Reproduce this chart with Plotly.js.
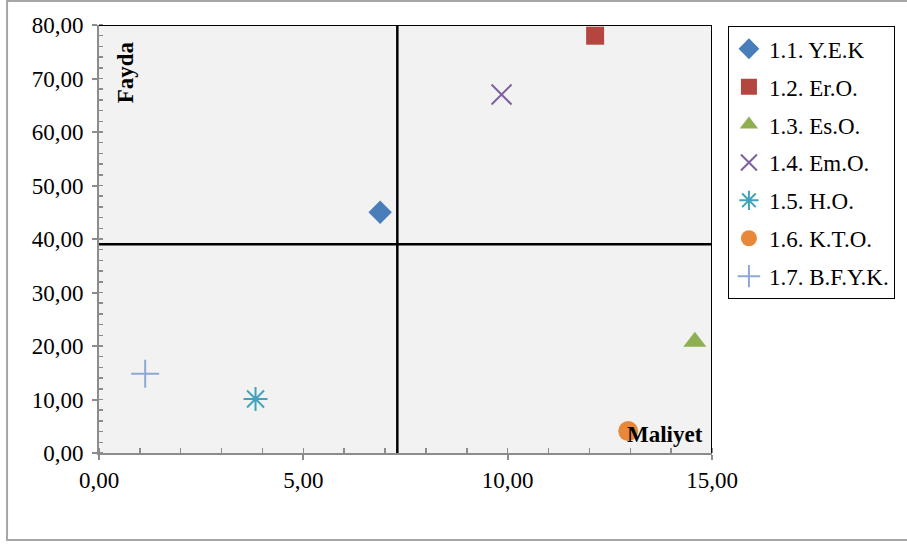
<!DOCTYPE html>
<html>
<head>
<meta charset="utf-8">
<script src="https://cdn.plot.ly/plotly-3.0.1.min.js"></script>
<style>
  html, body { margin: 0; padding: 0; background: #ffffff; }
  #chart { width: 907px; height: 544px; }
</style>
</head>
<body>
<div id="chart"></div>
<script>
// Criteria positioned by cost (Maliyet) and benefit (Fayda)
const names = ["1.1. Y.E.K", "1.2. Er.O.", "1.3. Es.O.", "1.4. Em.O.", "1.5. H.O.", "1.6. K.T.O.", "1.7. B.F.Y.K."];
const maliyet = [6.88, 12.14, 14.58, 9.85, 3.83, 12.95, 1.13];
const fayda = [45.0, 78.0, 20.8, 67.0, 10.1, 4.1, 14.8];
const symbols = ["diamond", "square", "triangle-up", "x-thin-open", "asterisk-open", "circle", "cross-thin-open"];
const colors = ["#4A7EBB", "#B5463F", "#8FB050", "#7D60A0", "#3FA3BE", "#E8883A", "#8EA8D6"];
const sizes = [18, 18, 20, 20, 20, 20, 20];

// Quadrant dividers
const maliyetSplit = 7.3;
const faydaSplit = 39.0;

const xRange = [0, 15];
const yRange = [0, 80];

const traces = names.map((n, i) => ({
  type: "scatter",
  mode: "markers",
  name: n,
  legendgroup: "g" + i,
  x: [maliyet[i]],
  y: [fayda[i]],
  marker: {
    symbol: symbols[i],
    color: colors[i],
    size: sizes[i],
    line: { color: colors[i], width: symbols[i].indexOf("open") >= 0 ? 2 : 0 }
  },
  hoverinfo: "name+x+y"
}));

const serif = "'Liberation Serif', 'Times New Roman', serif";
const axisGray = "#8c8c8c";

const layout = {
  width: 907,
  height: 544,
  margin: { l: 99, r: 195, t: 25, b: 91 },
  paper_bgcolor: "#ffffff",
  plot_bgcolor: "#f2f2f2",
  separators: ",.",
  font: { family: serif, size: 23, color: "#000000" },
  showlegend: true,
  legend: {
    x: 1.026, y: 0.997, xanchor: "left", yanchor: "top",
    bgcolor: "#ffffff", bordercolor: "#000000", borderwidth: 1,
    font: { family: serif, size: 23, color: "#000000" },
    tracegroupgap: 5,
    itemwidth: 30
  },
  xaxis: {
    range: xRange, dtick: 5, tick0: 0, tickformat: ".2f",
    showgrid: false, zeroline: false,
    showline: true, linecolor: axisGray, linewidth: 2,
    ticks: "outside", ticklen: 5, tickwidth: 2, tickcolor: axisGray,
    ticklabelstandoff: 0,
    minor: { dtick: 1, ticks: "inside", ticklen: 5, tickwidth: 1.5, tickcolor: axisGray, showgrid: false },
    tickfont: { family: serif, size: 23, color: "#000000" },
    fixedrange: true
  },
  yaxis: {
    range: yRange, dtick: 10, tick0: 0, tickformat: ".2f",
    showgrid: false, zeroline: false,
    showline: true, linecolor: axisGray, linewidth: 2,
    ticks: "outside", ticklen: 5, tickwidth: 2, tickcolor: axisGray,
    ticklabelstandoff: 4,
    minor: { dtick: 2, ticks: "inside", ticklen: 4, tickwidth: 1.5, tickcolor: axisGray, showgrid: false },
    tickfont: { family: serif, size: 23, color: "#000000" },
    fixedrange: true
  },
  shapes: [
    // outer chart frame
    { type: "rect", xref: "paper", yref: "paper", x0: -0.150, x1: 1.40, y0: -0.203, y1: 1.056,
      line: { color: "#a6a6a6", width: 2 }, layer: "below" },
    // top and right plot borders
    { type: "line", xref: "x", yref: "y", x0: xRange[0], x1: xRange[1], y0: yRange[1], y1: yRange[1],
      line: { color: "#000000", width: 2 } },
    { type: "line", xref: "x", yref: "y", x0: xRange[1], x1: xRange[1], y0: yRange[0], y1: yRange[1],
      line: { color: "#000000", width: 2 } },
    // quadrant dividers
    { type: "line", xref: "x", yref: "y", x0: maliyetSplit, x1: maliyetSplit, y0: yRange[0], y1: yRange[1],
      line: { color: "#000000", width: 2.5 }, layer: "below" },
    { type: "line", xref: "x", yref: "y", x0: xRange[0], x1: xRange[1], y0: faydaSplit, y1: faydaSplit,
      line: { color: "#000000", width: 2.5 }, layer: "below" }
  ],
  annotations: [
    { text: "<b>Fayda</b>", xref: "x", yref: "y", x: 0.64, y: 71.2, textangle: -90,
      showarrow: false, font: { family: serif, size: 23, color: "#000000" } },
    { text: "<b>Maliyet</b>", xref: "x", yref: "y", x: 13.85, y: 3.4,
      showarrow: false, font: { family: serif, size: 23, color: "#000000" } }
  ]
};

Plotly.newPlot("chart", traces, layout, { displayModeBar: false, staticPlot: true });
</script>
</body>
</html>
